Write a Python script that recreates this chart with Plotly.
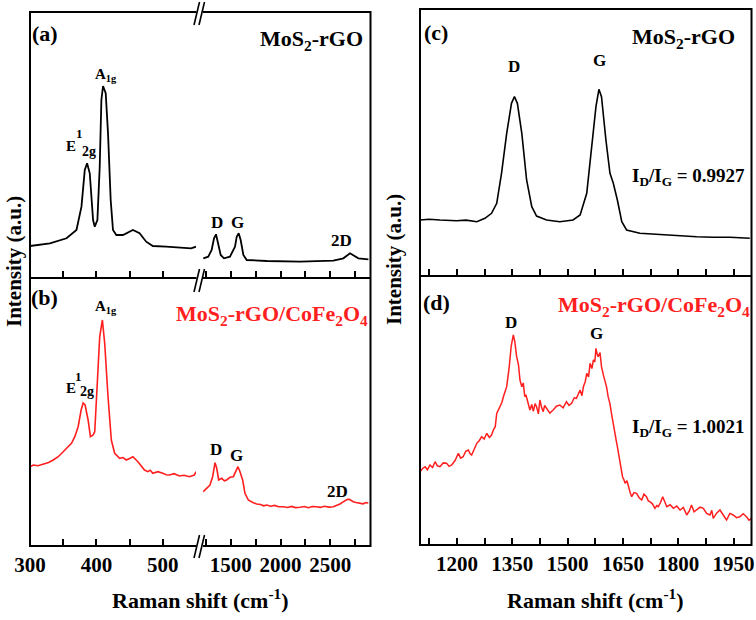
import plotly.graph_objects as go

# ---------------- data ----------------
# Panel (a): MoS2-rGO, low-wavenumber segment
a1_x = [300, 330, 355, 370, 377.5, 382.5, 386, 390, 395, 397.5, 401.5, 405, 407.5, 410, 414, 417.5,
        421.5, 425, 430, 440, 455, 465, 475, 485, 505, 530, 542.5, 550]
a1_y = [32, 34.7, 39.7, 48, 71.3, 108, 114.7, 104.7, 58, 51.3, 58, 111.3, 178, 192, 184.7, 144.7,
        78, 48, 43, 43, 48, 44.7, 36.3, 32, 31.3, 30.7, 29.7, 31.3]
# Panel (a): carbon segment
a2_x = [1223, 1273, 1307, 1331, 1351, 1374, 1398, 1431, 1491, 1542, 1559, 1579, 1599, 1626, 1660,
        1861, 2196, 2531, 2632, 2699, 2732, 2783, 2884]
a2_y = [19.7, 21.3, 28, 39.7, 43.7, 34.7, 23, 19.7, 21.3, 31.3, 41.3, 44.7, 38, 23, 18,
        17, 16.3, 17.3, 19.7, 24.7, 23, 19.7, 18.7]

# Panel (b): MoS2-rGO/CoFe2O4, low-wavenumber segment
b1_x = [300, 305, 312, 320, 328, 335, 342.5, 350, 357.5, 362.5, 367.5, 372.5, 377, 380, 383,
        387.5, 391, 395, 397.5, 401, 405, 409, 412.5, 417.5, 422.5, 427.5, 435, 440, 445, 450, 455,
        462.5, 467, 472.5, 477.5, 481, 485, 492.5, 500, 505, 510, 517, 525, 532, 540, 547.5, 550]
b1_y = [79.3, 81, 80.2, 82, 83.5, 86, 89.3, 94.3, 99.3, 102.7, 109.3, 119.3, 136, 143, 141,
        126, 109.3, 111, 114.3, 166, 209.3, 226, 202.7, 149.3, 106, 92.7, 87.7, 88.5, 86, 87.5, 89.3,
        84.3, 80.5, 76, 74.3, 75.8, 72.7, 74.3, 72.7, 71.2, 71, 72.3, 70, 70.8, 69.3, 71, 74.3]
# Panel (b): carbon segment
b2_x = [1223, 1257, 1290, 1317, 1341, 1358, 1378, 1408, 1435, 1458, 1492, 1525, 1552, 1572, 1592,
        1619, 1642, 1676, 1726, 1760, 1800, 1830, 1861, 1900, 1940, 1980, 2028, 2070, 2110, 2150,
        2196, 2240, 2280, 2320, 2364, 2400, 2440, 2490, 2531, 2570, 2598, 2630, 2649, 2670, 2692,
        2712, 2732, 2760, 2799, 2830, 2860, 2883]
b2_y = [54.3, 57.7, 61, 69.3, 83.3, 77.7, 66, 67.7, 65.2, 66, 68.7, 69.3, 74.3, 79.3, 74.3,
        66, 52.7, 46, 43.3, 42.0, 41.5, 40.2, 41.0, 39.8, 40.6, 39.2, 39.3, 38.5, 39.6, 38.4,
        38.7, 39.5, 38.3, 39.4, 39.3, 38.6, 39.8, 38.9, 39.3, 40.5, 42, 44.1, 45.3, 46.5, 46.7,
        45.2, 44.3, 43.5, 43, 42.2, 43.4, 43]

# Panel (c): MoS2-rGO, D/G region
c_x = [1100, 1125, 1154, 1180, 1199, 1225, 1254, 1276, 1294, 1308, 1321, 1335, 1348, 1356, 1364,
       1376, 1389, 1403, 1416, 1443, 1479, 1515, 1534, 1552, 1565, 1577, 1585, 1592, 1604, 1615,
       1624, 1635, 1647, 1660, 1696, 1730, 1759, 1805, 1850, 1895, 1940, 1994]
c_y = [56, 56.8, 56, 55.2, 55.3, 55.9, 54.3, 57.7, 62.7, 72.7, 102.7, 142.7, 172.7, 179.3, 172.7,
       142.7, 96, 69.3, 60, 56, 54.3, 56, 61, 82.7, 126, 169.3, 186.7, 179.3, 136, 102.7,
       92.7, 76, 54.3, 46, 42.7, 41.8, 41, 40, 39.3, 38.7, 38.7, 37.7]

# Panel (d): MoS2-rGO/CoFe2O4, D/G region
d_x = [1100, 1107, 1114, 1120, 1127, 1134, 1141, 1147, 1154, 1163, 1172, 1179, 1186, 1195, 1204,
       1210, 1217, 1224, 1231, 1236, 1240, 1247, 1254, 1261, 1267, 1274, 1281, 1288, 1294, 1299,
       1304, 1308, 1313, 1317, 1322, 1326, 1331, 1335, 1342, 1347, 1353, 1357, 1362, 1367, 1371,
       1376, 1380, 1384, 1387, 1393, 1398, 1403, 1407, 1412, 1416, 1421, 1425, 1430, 1434, 1438,
       1443, 1452, 1461, 1470, 1479, 1488, 1497, 1504, 1511, 1518, 1524, 1529, 1534, 1539, 1543,
       1548, 1552, 1557, 1561, 1566, 1570, 1574, 1577, 1580, 1583, 1588, 1592, 1597, 1601, 1606,
       1610, 1615, 1619, 1624, 1628, 1632, 1635, 1639, 1642, 1646, 1649, 1653, 1656, 1661, 1665,
       1670, 1674, 1680, 1687, 1694, 1701, 1707, 1714, 1719, 1723, 1730, 1737, 1742, 1746, 1752,
       1758, 1763, 1769, 1778, 1787, 1796, 1805, 1814, 1823, 1830, 1836, 1843, 1850, 1859, 1868,
       1877, 1886, 1891, 1895, 1904, 1913, 1922, 1931, 1940, 1949, 1958, 1967, 1976, 1985, 1992,
       1999]
d_y = [73.3, 76.5, 78.3, 75.2, 80, 77.5, 83.3, 79.2, 78.3, 82.1, 81.7, 78.6, 80, 84.5, 91.7,
       86.9, 88.3, 93.8, 95, 91.2, 90, 96.8, 101.7, 104.5, 108.3, 105.9, 111.7, 107.6, 110, 115.2,
       118.3, 131.5, 135.2, 138.3, 142.5, 148.3, 153.1, 158.3, 178.3, 198.3, 210, 203.3, 188.3, 180.2, 165,
       158.3, 162.1, 148.3, 150.2, 141.7, 135, 140.5, 133.8, 141.3, 138.3, 131.2, 145, 137.2, 133.3, 139.5,
       136.7, 131.9, 135, 138.8, 140, 137.1, 143.3, 139.6, 141.7, 147.2, 146.7, 150.8, 155, 149.3, 158.3,
       163.5, 171.7, 168.2, 181.7, 176.4, 185, 183.1, 196.7, 191.2, 188.3, 192.5, 178.3, 170.1, 165, 157.6,
       148.3, 141.2, 131.7, 119.5, 111.7, 104.3, 98.3, 89.2, 81.7, 75.4, 68.3, 65.1, 61.7, 64.2, 58.3,
       52.1, 48.3, 52.4, 51.7, 47.3, 45, 50.8, 48.3, 44.1, 43.3, 41.2, 36.7, 39.4, 38.3, 42.5,
       48.3, 43.6, 38.3, 40.2, 36.7, 38.9, 35, 37.6, 30, 34.1, 40, 33.2, 35, 37.8, 36.7,
       31.5, 30, 34.6, 26.7, 31.8, 35, 29.5, 25, 31.6, 30, 27.4, 28.3, 31.2, 28.3, 24.9,
       26.7]

# Axis tick values / labels
seg1_ticks = [300, 350, 400, 450, 500]
seg1_text = ["300", "", "400", "", "500"]
seg2_ticks = [1250, 1500, 1750, 2000, 2250, 2500, 2750]
seg2_text = ["", "1500", "", "2000", "", "2500", ""]
right_ticks = [1125, 1200, 1275, 1350, 1425, 1500, 1575, 1650, 1725, 1800, 1875, 1950]
right_text = ["", "1200", "", "1350", "", "1500", "", "1650", "", "1800", "", "1950"]

# ---------------- layout helpers ----------------
W, H = 756, 620
def px(x):
    return x / W
def py(y):
    return 1 - y / H

BLACK = "#000000"
RED = "#ff1f1f"
FONT = "Liberation Serif"

fig = go.Figure()
fig.add_trace(go.Scatter(x=a1_x, y=a1_y, mode="lines", line=dict(color=BLACK, width=1.8), xaxis="x", yaxis="y"))
fig.add_trace(go.Scatter(x=a2_x, y=a2_y, mode="lines", line=dict(color=BLACK, width=1.8), xaxis="x2", yaxis="y"))
fig.add_trace(go.Scatter(x=b1_x, y=b1_y, mode="lines", line=dict(color=RED, width=1.6), xaxis="x3", yaxis="y2"))
fig.add_trace(go.Scatter(x=b2_x, y=b2_y, mode="lines", line=dict(color=RED, width=1.6), xaxis="x4", yaxis="y2"))
fig.add_trace(go.Scatter(x=c_x, y=c_y, mode="lines", line=dict(color=BLACK, width=1.6), xaxis="x5", yaxis="y3"))
fig.add_trace(go.Scatter(x=d_x, y=d_y, mode="lines", line=dict(color=RED, width=1.5), xaxis="x6", yaxis="y4"))

tickfont = dict(family=FONT, size=21, color=BLACK, weight="bold")

def xaxis(dom, rng, anchor, tv, tt, labels):
    return dict(domain=[px(dom[0]), px(dom[1])], range=rng, anchor=anchor, showgrid=False,
                zeroline=False, showline=False, ticks="inside", ticklen=7, tickwidth=1.5,
                tickcolor=BLACK, tickvals=tv, ticktext=tt, showticklabels=labels,
                tickfont=tickfont, ticklabelstandoff=4, automargin=False, fixedrange=True)

def yaxis(top, bottom, rng, anchor):
    return dict(domain=[py(bottom), py(top)], range=rng, anchor=anchor, visible=False,
                fixedrange=True, automargin=False)

fig.update_layout(
    template="none",
    width=W, height=H, autosize=False,
    margin=dict(l=0, r=0, t=0, b=0, pad=0, autoexpand=False),
    paper_bgcolor="white", plot_bgcolor="rgba(0,0,0,0)",
    showlegend=False,
    xaxis=xaxis((30, 196), [300, 550], "y", seg1_ticks, seg1_text, False),
    xaxis2=xaxis((203, 370), [1220, 2900], "y", seg2_ticks, seg2_text, False),
    xaxis3=xaxis((30, 196), [300, 550], "y2", seg1_ticks, seg1_text, True),
    xaxis4=xaxis((203, 370), [1220, 2900], "y2", seg2_ticks, seg2_text, True),
    xaxis5=xaxis((420, 752), [1100, 2000], "y3", right_ticks, right_text, False),
    xaxis6=xaxis((420, 752), [1100, 2000], "y4", right_ticks, right_text, True),
    yaxis=yaxis(12, 278, [0, 266], "x"),
    yaxis2=yaxis(278, 546, [0, 268], "x3"),
    yaxis3=yaxis(9, 276, [0, 267], "x5"),
    yaxis4=yaxis(276, 545, [0, 269], "x6"),
)

# ---------------- frames ----------------
shapes = []
def line(x0, y0, x1, y1, w=2.0):
    shapes.append(dict(type="line", xref="paper", yref="paper", x0=px(x0), y0=py(y0),
                       x1=px(x1), y1=py(y1), line=dict(color=BLACK, width=w)))

# left panel frame with axis break
for yy in (12, 278, 546):
    line(30, yy, 196.5, yy)
    line(203, yy, 370.5, yy)
line(30, 11, 30, 547)
line(370.5, 11, 370.5, 547)
# break marks
for yc in (13.5, 280.5, 546.5):
    line(194, yc + 11.5, 199.5, yc - 11.5, 1.6)
    line(199, yc + 11.5, 204.5, yc - 11.5, 1.6)
# right panel frame
line(420, 9, 752, 9)
line(420, 276, 752, 276)
line(420, 545, 752, 545)
line(420, 8, 420, 546)
line(751.5, 8, 751.5, 546)
fig.update_layout(shapes=shapes)

# ---------------- text ----------------
ann = []
def text(x, y, s, size, color=BLACK, angle=0):
    ann.append(dict(xref="paper", yref="paper", x=px(x), y=py(y), text=s, showarrow=False,
                    xanchor="center", yanchor="middle", textangle=angle,
                    font=dict(family=FONT, size=size, color=color, weight="bold")))

# panel letters
text(45, 33, "(a)", 22)
text(44, 297, "(b)", 22)
text(436, 32, "(c)", 22)
text(436, 302, "(d)", 22)
# sample names
text(311, 40, "MoS<sub>2</sub>-rGO", 22)
text(272, 315, "MoS<sub>2</sub>-rGO/CoFe<sub>2</sub>O<sub>4</sub>", 22, RED)
text(683, 38, "MoS<sub>2</sub>-rGO", 22)
text(654, 306, "MoS<sub>2</sub>-rGO/CoFe<sub>2</sub>O<sub>4</sub>", 22, RED)
# ratios
text(688, 177, "I<sub>D</sub>/I<sub>G</sub> = 0.9927", 19)
text(688, 428, "I<sub>D</sub>/I<sub>G</sub> = 1.0021", 19)
# peak labels (a)
text(106, 75, "A<sub>1g</sub>", 15)
text(71, 146, "E", 15)
text(79.5, 134, "1", 13)
text(88.5, 151, "2g", 14)
text(217, 222, "D", 17)
text(237, 223, "G", 17)
text(341, 240, "2D", 17)
# peak labels (b)
text(106, 307, "A<sub>1g</sub>", 15)
text(71, 388, "E", 15)
text(78, 376, "1", 13)
text(86.5, 392, "2g", 14)
text(216, 449, "D", 17)
text(236, 455, "G", 17)
text(337, 491, "2D", 17)
# peak labels (c), (d)
text(514, 67, "D", 17)
text(599, 60, "G", 17)
text(511, 322, "D", 17)
text(596, 333, "G", 17)
# axis titles
text(200, 599, "Raman shift (cm<sup>-1</sup>)", 22)
text(595, 599, "Raman shift (cm<sup>-1</sup>)", 22)
text(14, 262, "Intensity (a.u.)", 21, angle=-90)
text(394, 260, "Intensity (a.u.)", 21, angle=-90)
fig.update_layout(annotations=ann)

fig.write_html("out.html", config={"displayModeBar": False},
               post_script="document.body.style.margin='0';")
